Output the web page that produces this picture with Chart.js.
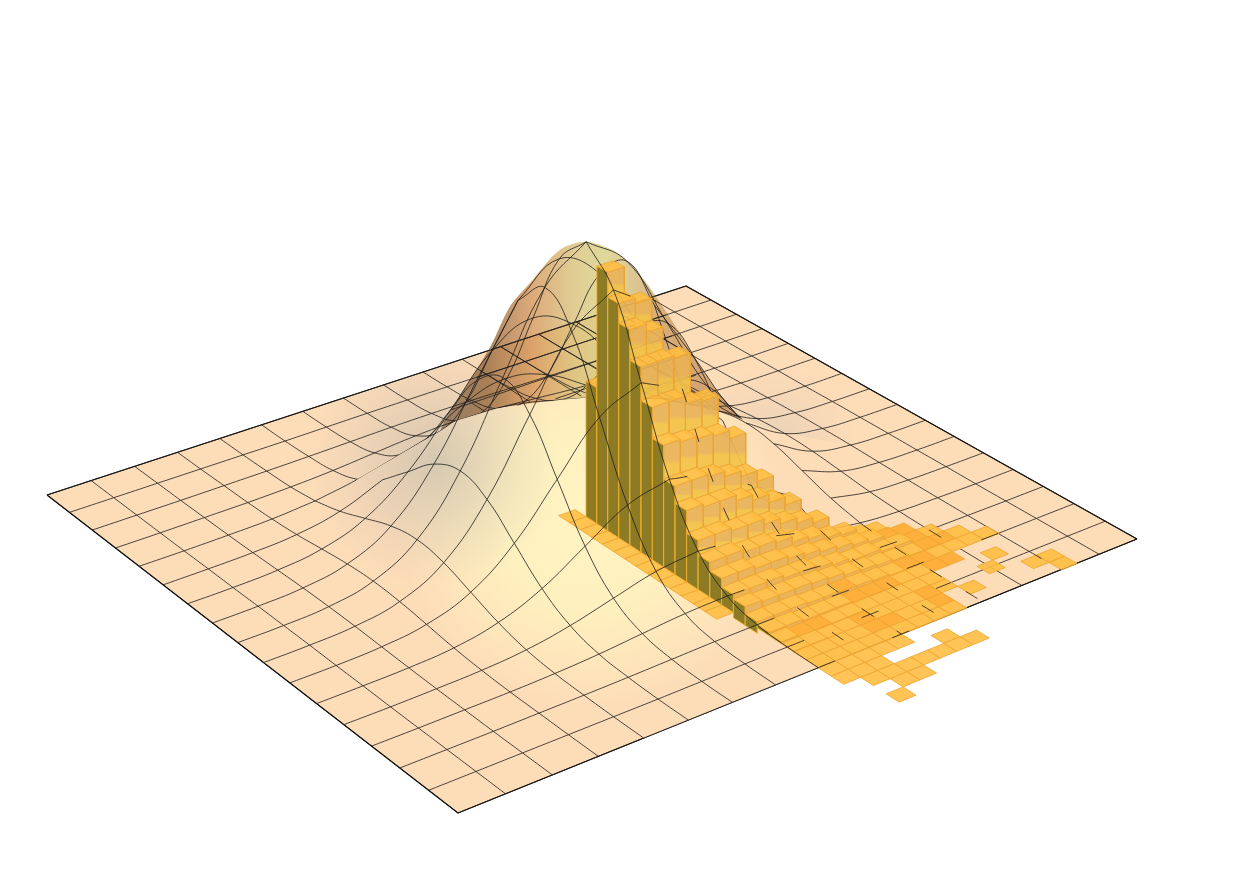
<!DOCTYPE html>
<html>
<head>
<meta charset="utf-8">
<title>Surface and histogram</title>
<script src="https://cdn.jsdelivr.net/npm/chart.js"></script>
<style>
    html, body { margin: 0; padding: 0; background: #fff; }
    canvas { display: block; }
</style>
</head>
<body>
<canvas id="chart" width="1255" height="884"></canvas>
<script>
// Surface heights, 1 = top of the hill (rows go left corner -> front corner)
const surfaceRow0 = [0,0,0,0,0,0,0,0,0,0,0,0,0,0,0,0,0];
const surfaceRow1 = [0,0,0,0,0,0,.001,.002,.002,.002,.001,0,0,0,0,0,0];
const surfaceRow2 = [0,0,0,.001,.002,.004,.007,.010,.011,.010,.007,.004,.002,.001,0,0,0];
const surfaceRow3 = [0,0,.001,.002,.006,.014,.027,.039,.044,.039,.027,.014,.006,.002,.001,0,0];
const surfaceRow4 = [0,0,.002,.006,.018,.044,.082,.119,.135,.119,.082,.044,.018,.006,.002,0,0];
const surfaceRow5 = [0,.001,.004,.014,.044,.105,.197,.287,.325,.287,.197,.105,.044,.014,.004,.001,0];
const surfaceRow6 = [0,.001,.007,.027,.082,.197,.368,.535,.607,.535,.368,.197,.082,.027,.007,.001,0];
const surfaceRow7 = [0,.002,.010,.039,.119,.287,.535,.779,.882,.779,.535,.287,.119,.039,.010,.002,0];
const surfaceRow8 = [0,.002,.011,.044,.135,.325,.607,.882,1,.882,.607,.325,.135,.044,.011,.002,0];
const surfaceHeights = [surfaceRow0, surfaceRow1, surfaceRow2, surfaceRow3, surfaceRow4, surfaceRow5,
    surfaceRow6, surfaceRow7, surfaceRow8, surfaceRow7, surfaceRow6, surfaceRow5, surfaceRow4,
    surfaceRow3, surfaceRow2, surfaceRow1, surfaceRow0];

// Histogram bar heights, same unit. Each row starts at the thin strip in front of the wall, 0 = no bar
const barRows = [
    [.018],
    [.018,.51],
    [.018,.95],
    [.018,.86,.84],
    [.018,.79,.76],
    [.018,.68,.68,.67],
    [.018,.56,.56,.53,.52],
    [.018,.45,.44,.43,.42,.39],
    [.018,.33,.33,.32,.30,.28,.24],
    [.018,.27,.26,.26,.24,.22,.19,.16],
    [.018,.19,.19,.18,.18,.16,.14,.12,.10],
    [.018,.14,.14,.13,.13,.12,.10,.09,.07,.06,.03,.018],
    [.018,.11,.11,.10,.10,.09,.08,.07,.06,.05,.04,.025,.018],
    [.018,.08,.08,.08,.07,.07,.06,.05,.04,.04,.03,.03,.018,.018],
    [0,.065,.06,.06,.06,.055,.05,.04,.035,.03,.025,.02,.02,.018,.018],
    [0,.04,.04,.04,.035,.035,.03,.03,.025,.02,.02,.018,.018,.018,.018,.018],
    [0,.03,.03,.025,.025,.025,.02,.02,.02,.018,.018,.018,.018],
    [0,.025,.02,.02,.02,.02,.018,.018,.018,.018,.018,0,0,0,.018],
    [0,.02,.02,.018,.018,.018,.018,.018,.018,.018,.018,0,0,.018],
    [0,.018,.018,.018,.018,.018,.018,.018,.018,.018,0,.018,0,0,0,.018,.018],
    [0,.018,.018,.018,.018,.018,.018,.018,.018,.018,0,0,0,0,0,0,.018],
    [0,.018,.018,.018,.018,.018],
    [0,.018,.018,.018,0,0,0,.018],
    [0,0,.018,.018,.018,.018,.018,.018,.018],
    [0,0,0,.018,.018],
    [0,0,.018]
];

// Thin bars that read a bit darker in the picture
const darkCellRow = [11,11,12,13,13,14,14,15,15,15,15,15,14,18,18,17,16,16,18,17];
const darkCellCol = [11,10,11,11,12, 9,10,10,11, 7, 6, 5, 5, 4, 5, 4, 1, 2, 8, 8];

// Outline of the hill seen against the background: mesh position and height
const ridgeColumn = [6, 6.4, 6.6, 7, 7.3, 7.7, 8, 8.5, 9, 9.6, 10.4, 11.1, 12];
const ridgeRow = [6, 6, 6.6, 6.7, 7, 7.5, 8, 8.3, 8.4, 8.6, 8.6, 8.6, 8];
const ridgeZ = [.368, .44, .61, .74, .83, .958, 1, .958, .865, .694, .466, .288, .135];

// Mesh nodes (column, row) along the edges of the shaded parts of the hill
const foldNodes = [[7,4],[8,3],[9,3],[10,4],[11,4],[11,5],[12,6],[12,7]];
const skirtNodes = [[13,8],[14,9],[14,11],[13,14],[8,16],[4,16],[1,13],[0,9],[2,7],[3,5],[5,4]];

// Camera: where the four base corners land on the 1255x884 scales
const cornerLeft = [47, 495], cornerBack = [686, 286], cornerRight = [1137, 539], cornerFront = [458, 813];
const meshCells = 16;
const hillHeight = 275;
const barStartU = 0.4925, barStartV = 0.511, barWidth = 0.025;

function makeCamera() {
    const [x0, y0] = cornerLeft, [x1, y1] = cornerBack, [x2, y2] = cornerRight, [x3, y3] = cornerFront;
    const dx1 = x1 - x2, dx2 = x3 - x2, sx = x0 - x1 + x2 - x3;
    const dy1 = y1 - y2, dy2 = y3 - y2, sy = y0 - y1 + y2 - y3;
    const det = dx1 * dy2 - dx2 * dy1;
    const g = (sx * dy2 - dx2 * sy) / det;
    const h = (dx1 * sy - sx * dy1) / det;
    return { a: x1 - x0 + g * x1, b: x3 - x0 + h * x3, c: x0, d: y1 - y0 + g * y1, e: y3 - y0 + h * y3, f: y0, g, h };
}
const cam = makeCamera();
const centerW = 1 + cam.g / 2 + cam.h / 2;

// base position (u, v in 0..1) plus a height -> chart values
function project(u, v, z) {
    const w = 1 + cam.g * u + cam.h * v;
    return {
        x: (cam.a * u + cam.b * v + cam.c) / w,
        y: (cam.d * u + cam.e * v + cam.f) / w - z * hillHeight * centerW / w
    };
}
function meshPoint(i, j) {
    return project(i / meshCells, j / meshCells, surfaceHeights[j][i]);
}
function flatPoint(i, j) {
    return project(i / meshCells, j / meshCells, 0);
}
function barAt(m, k) {
    const row = barRows[k + 1];
    return row ? (row[m + 1] || 0) : 0;
}
function isDarkCell(m, k) {
    return darkCellRow.some((row, n) => row === k && darkCellCol[n] === m);
}

const canvas = document.getElementById('chart');
const ctx = canvas.getContext('2d');

function radial(x, y, r, stops) {
    const grad = ctx.createRadialGradient(x, y, 0, x, y, r);
    stops.forEach(s => grad.addColorStop(s[0], s[1]));
    return grad;
}

const paintOrder = [];

function addShape(points, fillColor, lineColor, lineWidth, tension) {
    paintOrder.push({
        data: points.concat([points[0]]),
        showLine: true,
        fill: 'shape',
        backgroundColor: fillColor,
        borderColor: lineColor || 'transparent',
        borderWidth: lineWidth || 1,
        borderJoinStyle: 'bevel',
        pointRadius: 0,
        tension: tension || 0
    });
}
function addLine(points, color, width, dash, tension) {
    paintOrder.push({
        data: points,
        showLine: true,
        fill: false,
        borderColor: color,
        borderWidth: width,
        borderDash: dash || [],
        pointRadius: 0,
        tension: tension === undefined ? 0.42 : tension
    });
}

function insidePolygon(p, poly) {
    let inside = false;
    for (let a = 0, b = poly.length - 1; a < poly.length; b = a++) {
        if ((poly[a].y > p.y) !== (poly[b].y > p.y) &&
            p.x < (poly[b].x - poly[a].x) * (p.y - poly[a].y) / (poly[b].y - poly[a].y) + poly[a].x) {
            inside = !inside;
        }
    }
    return inside;
}

const foldPath = foldNodes.map(n => meshPoint(n[0], n[1]));
const ridgePath = ridgeZ.map((z, n) => project(ridgeColumn[n] / meshCells, ridgeRow[n] / meshCells, z));
const skirtPath = skirtNodes.map(n => meshPoint(n[0], n[1]));
const domeOutline = ridgePath.concat(foldPath.slice().reverse());
const frontOutline = foldPath.concat(skirtPath);

// ---- base plane
const basePoints = [cornerLeft, cornerBack, cornerRight, cornerFront].map(c => ({ x: c[0], y: c[1] }));
const lineColor = 'rgba(28,28,28,0.88)';
const meshWidth = 0.9;
const leftShade = () => radial(435, 462, 125, [[0, 'rgba(180,178,170,0.55)'], [1, 'rgba(190,185,175,0)']]);
addShape(basePoints, '#fddcb8', '#000000', 1.2);
addShape(basePoints, leftShade());
addShape(basePoints, radial(775, 445, 80, [[0, 'rgba(205,195,182,0.4)'], [1, 'rgba(205,195,182,0)']]));

// ---- see-through upper part of the hill
const domeColor = ctx.createLinearGradient(430, 0, 745, 0);
domeColor.addColorStop(0, 'rgba(130,108,88,0.8)');
domeColor.addColorStop(0.18, 'rgba(155,110,68,0.84)');
domeColor.addColorStop(0.33, 'rgba(212,148,85,0.78)');
domeColor.addColorStop(0.46, 'rgba(215,190,115,0.76)');
domeColor.addColorStop(0.56, 'rgba(214,205,125,0.76)');
domeColor.addColorStop(0.72, 'rgba(205,160,100,0.76)');
domeColor.addColorStop(1, 'rgba(190,130,80,0.72)');
addShape(domeOutline, domeColor, null, 1, 0.3);

// flat base mesh, only where it shows through the hill
function addFlatMeshRuns(pointOf) {
    for (let line = 0; line <= meshCells; line++) {
        let run = [];
        for (let t = 0; t <= 64; t++) {
            const p = pointOf(line, t / 4);
            if (insidePolygon(p, domeOutline)) {
                run.push(p);
            } else {
                if (run.length > 1) addLine(run, lineColor, meshWidth, null, 0);
                run = [];
            }
        }
        if (run.length > 1) addLine(run, lineColor, meshWidth, null, 0);
    }
}
addFlatMeshRuns((line, t) => flatPoint(line, t));
addFlatMeshRuns((line, t) => flatPoint(t, line));

// ---- mesh lines split by what they pass in front of or behind
function segmentLayer(mi, mj, vertical, i) {
    // right of the hill nothing covers the back half
    if (mj < mi) return mi >= 12 ? 'under' : 'back';
    const u = mi / meshCells, v = mj / meshCells;
    if (u < barStartU) return 'over';
    const m = Math.floor((u - barStartU) / barWidth);
    const k = Math.floor((v - barStartV) / barWidth);
    if (barAt(m, k) > 0) {
        if (!vertical) return 'dashFlat';
        return i === meshCells / 2 ? 'over' : 'dash';
    }
    return 'under';
}
const meshRuns = { back: [], under: [], over: [], dash: [], dashFlat: [] };
function splitMeshLine(nodes, vertical) {
    let run = [nodes[0]];
    let layer = null;
    for (let n = 1; n < nodes.length; n++) {
        const prev = nodes[n - 1], cur = nodes[n];
        const next = segmentLayer((prev[0] + cur[0]) / 2, (prev[1] + cur[1]) / 2, vertical, cur[0]);
        if (layer !== null && next !== layer) {
            meshRuns[layer].push(run.map(q => meshPoint(q[0], q[1])));
            run = [prev];
        }
        run.push(cur);
        layer = next;
    }
    meshRuns[layer].push(run.map(q => meshPoint(q[0], q[1])));
}
for (let line = 0; line <= meshCells; line++) {
    const along = [], across = [];
    for (let n = 0; n <= meshCells; n++) {
        along.push([n, line]);
        across.push([line, n]);
    }
    splitMeshLine(along, false);
    splitMeshLine(across, true);
}
meshRuns.back.forEach(r => addLine(r, lineColor, meshWidth));

// ---- front of the hill, hides everything behind it
const frontColor = radial(590, 515, 195, [[0, '#fff4c2'], [0.45, '#fff1bf'], [0.75, '#fee6bb'], [1, '#fddcb8']]);
addShape(frontOutline, frontColor);
addShape(frontOutline, leftShade());
meshRuns.under.forEach(r => addLine(r, lineColor, meshWidth));

// ---- histogram bars, far ones first
const floorHeight = 0.018;
const barEdge = 'rgba(236,165,50,0.9)';

// the hill passes through the taller bars, it shows as a yellow band on their faces
function faceColor(top, bottom) {
    if (bottom.y - top.y < 10) return 'rgba(232,176,84,0.92)';
    const grad = ctx.createLinearGradient(0, top.y, 0, bottom.y);
    grad.addColorStop(0, 'rgba(233,178,88,0.92)');
    grad.addColorStop(0.42, 'rgba(233,178,88,0.92)');
    grad.addColorStop(0.55, 'rgba(243,194,72,0.92)');
    grad.addColorStop(0.85, 'rgba(243,194,72,0.92)');
    grad.addColorStop(1, 'rgba(235,182,82,0.92)');
    return grad;
}

function addBar(m, k) {
    const h = barAt(m, k);
    if (!h) return;
    const u0 = barStartU + m * barWidth, u1 = u0 + barWidth;
    const v0 = barStartV + k * barWidth, v1 = v0 + barWidth;
    // the wall only reaches the ground where the bar is clearly taller than the thin ones
    const leftLow = Math.max(barAt(m - 1, k), m === 0 && h > 0.03 ? 0 : floorHeight);
    const frontLow = Math.max(barAt(m, k + 1), floorHeight);
    if (h > leftLow) {
        addShape([project(u0, v0, h), project(u0, v1, h), project(u0, v1, leftLow), project(u0, v0, leftLow)],
            '#8d7a24', '#f2b42c', 0.8);
    }
    if (h > frontLow) {
        const top = project(u0, v1, h), bottom = project(u0, v1, frontLow);
        addShape([top, project(u1, v1, h), project(u1, v1, frontLow), bottom],
            faceColor(top, bottom), barEdge, 0.9);
    }
    addShape([project(u0, v0, h), project(u1, v0, h), project(u1, v1, h), project(u0, v1, h)],
        isDarkCell(m, k) ? 'rgba(255,172,52,0.94)' : 'rgba(255,190,66,0.9)', barEdge, 0.9);
}
for (let k = -1; k < barRows.length - 1; k++) {
    for (let m = barRows[k + 1].length - 2; m >= -1; m--) {
        addBar(m, k);
    }
}

// ---- mesh lines in front of the bars, and the bits that poke through them
meshRuns.over.forEach(r => addLine(r, lineColor, meshWidth));
meshRuns.dash.forEach(r => addLine(r, lineColor, meshWidth, [14, 28]));
meshRuns.dashFlat.forEach(r => addLine(r, lineColor, meshWidth, [18, 62]));

// chart.js paints the first dataset last
paintOrder.reverse();

new Chart(canvas, {
    type: 'scatter',
    data: { datasets: paintOrder },
    options: {
        responsive: false,
        animation: false,
        events: [],
        layout: { padding: 0 },
        plugins: { legend: { display: false }, tooltip: { enabled: false }, title: { display: false } },
        scales: {
            x: { type: 'linear', min: 0, max: 1255, display: false },
            y: { type: 'linear', min: 0, max: 884, reverse: true, display: false }
        }
    }
});
</script>
</body>
</html>
